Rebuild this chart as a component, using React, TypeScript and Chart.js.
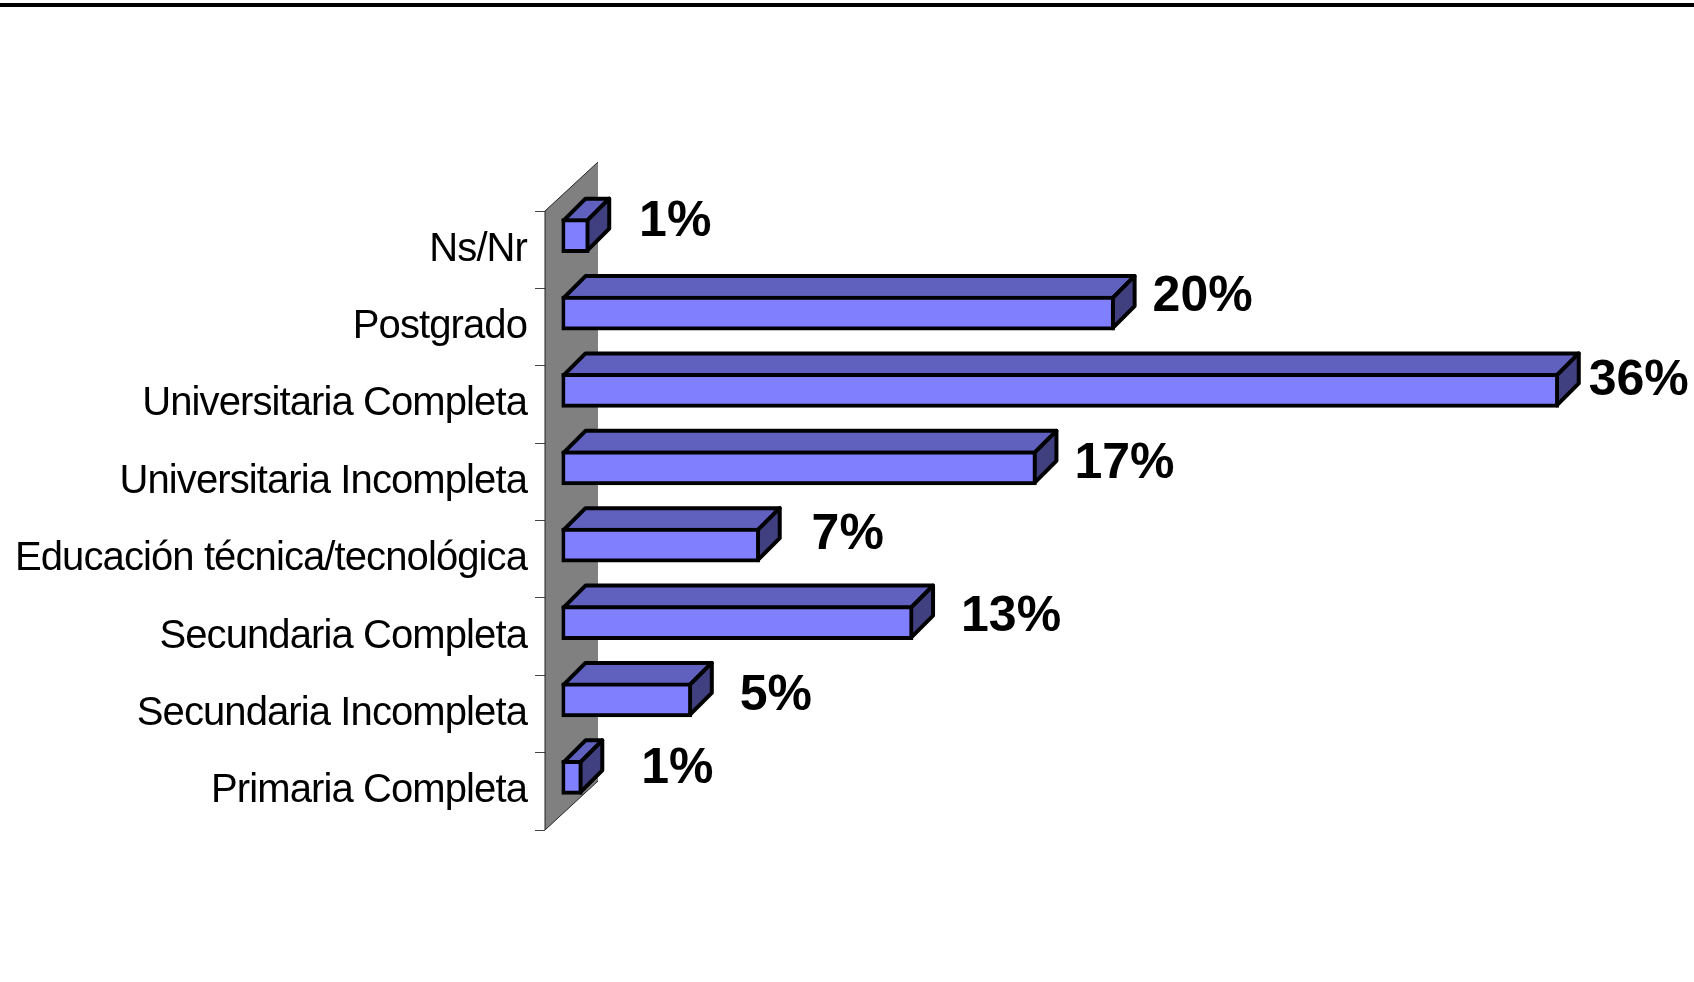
import React, { useEffect, useRef } from "react";
import { Chart, registerables } from "chart.js";

Chart.register(...registerables);

const categories = [
  "Ns/Nr",
  "Postgrado",
  "Universitaria Completa",
  "Universitaria Incompleta",
  "Educación técnica/tecnológica",
  "Secundaria Completa",
  "Secundaria Incompleta",
  "Primaria Completa",
];
const barValues = [1.0, 19.95, 35.97, 17.13, 7.15, 12.68, 4.7, 0.75];
const valueLabels = ["1%", "20%", "36%", "17%", "7%", "13%", "5%", "1%"];
const labelDx = [86, 88, 80, 88, 88, 98, 84, 95];
const labelDy = [-15, -18, -11, -6, -12, -7, -6, -10];

const FRONT = "#8080FF";
const TOP = "#6060BF";
const SIDE = "#404080";
const DEPTH = 22;
const OFFSET_X = 16.5;
const OFFSET_Y = -14;
const WALL_DX = 53;
const WALL_DY = 49;
const BAR_STROKE = 4;

const poly = (ctx: CanvasRenderingContext2D, pts: number[][], fill: string) => {
  ctx.beginPath();
  pts.forEach(([x, y], i) => (i ? ctx.lineTo(x, y) : ctx.moveTo(x, y)));
  ctx.closePath();
  ctx.fillStyle = fill;
  ctx.fill();
  ctx.stroke();
};

const bar3d = {
  id: "bar3d",
  beforeDraw(chart: any) {
    const { ctx, width } = chart;
    ctx.save();
    ctx.fillStyle = "#000";
    ctx.fillRect(0, 3, width, 4);
    ctx.restore();
    (ctx as any).letterSpacing = "-0.9px";
  },
  beforeDatasetsDraw(chart: any) {
    const { ctx, chartArea: a } = chart;
    (ctx as any).letterSpacing = "0px";
    ctx.save();
    ctx.strokeStyle = "#222";
    ctx.lineWidth = 1;
    ctx.fillStyle = "#808080";
    ctx.beginPath();
    ctx.moveTo(a.left, a.top);
    ctx.lineTo(a.left + WALL_DX, a.top - WALL_DY);
    ctx.lineTo(a.left + WALL_DX, a.bottom - WALL_DY);
    ctx.lineTo(a.left, a.bottom);
    ctx.closePath();
    ctx.fill();
    ctx.beginPath();
    ctx.moveTo(a.left + WALL_DX, a.bottom - WALL_DY);
    ctx.lineTo(a.left, a.bottom);
    ctx.lineTo(a.left, a.top);
    ctx.lineTo(a.left + WALL_DX, a.top - WALL_DY);
    ctx.stroke();
    ctx.restore();

    ctx.save();
    ctx.translate(OFFSET_X, OFFSET_Y);
    ctx.strokeStyle = "#000";
    ctx.lineWidth = BAR_STROKE;
    ctx.lineJoin = "round";
    chart.getDatasetMeta(0).data.forEach((bar: any) => {
      const h = BAR_STROKE / 2;
      const t = bar.y - bar.height / 2 + h;
      const b = bar.y + bar.height / 2 - h;
      const l = bar.base + h;
      const r = bar.x - h;
      poly(ctx, [[l, t], [l + DEPTH, t - DEPTH], [r + DEPTH, t - DEPTH], [r, t]], TOP);
      poly(ctx, [[r, t], [r + DEPTH, t - DEPTH], [r + DEPTH, b - DEPTH], [r, b]], SIDE);
    });
  },
  afterDatasetsDraw(chart: any) {
    const { ctx } = chart;
    ctx.restore();
    ctx.save();
    ctx.font = "bold 50px 'Liberation Sans', Arial, sans-serif";
    ctx.fillStyle = "#000";
    ctx.textAlign = "center";
    ctx.textBaseline = "middle";
    chart.getDatasetMeta(0).data.forEach((bar: any, i: number) => {
      ctx.fillText(
        valueLabels[i],
        bar.x + OFFSET_X + labelDx[i],
        bar.y + OFFSET_Y + labelDy[i] + 2
      );
    });
    ctx.restore();
  },
};

export default function App() {
  const ref = useRef<HTMLCanvasElement>(null);
  useEffect(() => {
    const chart = new Chart(ref.current!, {
      type: "bar",
      data: {
        labels: categories,
        datasets: [
          {
            data: barValues,
            backgroundColor: FRONT,
            borderColor: "#000",
            borderWidth: BAR_STROKE,
            borderSkipped: false,
            barThickness: 34,
          },
        ],
      },
      options: {
        indexAxis: "y",
        animation: false,
        responsive: false,
        events: [],
        layout: { padding: { top: 211, bottom: 152, left: 0, right: 40 } },
        plugins: { legend: { display: false }, tooltip: { enabled: false }, title: { display: false } },
        scales: {
          x: { display: false, min: 0, max: 40 },
          y: {
            afterFit: (s: any) => {
              s.width = 545;
            },
            border: { display: false },
            grid: {
              offset: true,
              drawOnChartArea: false,
              drawTicks: true,
              tickLength: 10,
              tickWidth: 1,
              tickColor: "#444",
            },
            ticks: {
              padding: 8,
              color: "#000",
              autoSkip: false,
              font: { family: "'Liberation Sans', Arial, sans-serif", size: 40 },
            },
          },
        },
      },
      plugins: [bar3d],
    } as any);
    return () => chart.destroy();
  }, []);
  return (
    <div style={{ position: "fixed", left: 0, top: 0, width: 1694, height: 982, background: "#fff" }}>
      <canvas ref={ref} width={1694} height={982} style={{ display: "block" }} />
    </div>
  );
}
